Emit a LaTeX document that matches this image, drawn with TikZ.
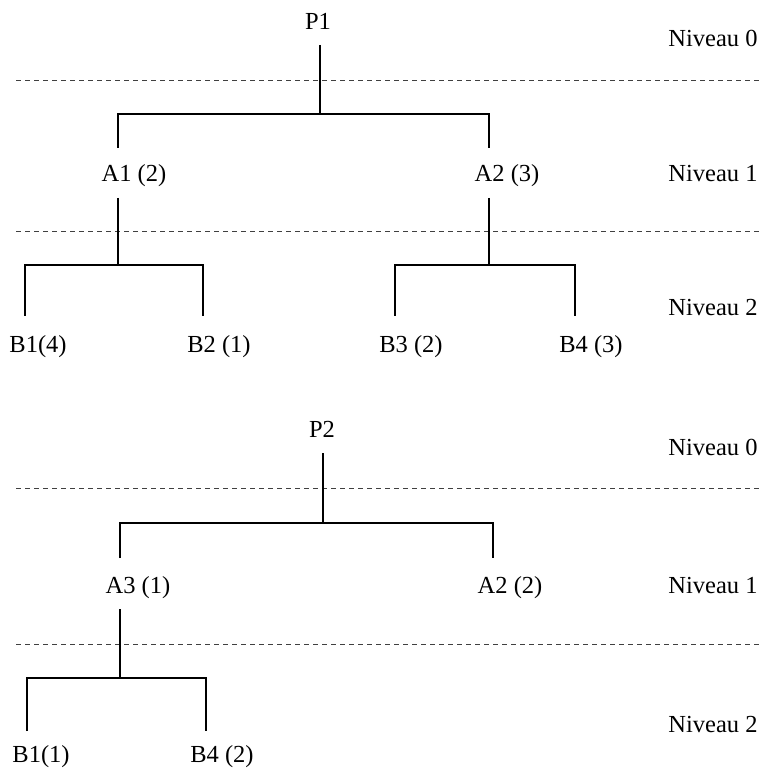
\documentclass[tikz,border=0pt]{standalone}
\usepackage{fontspec}
\setmainfont{Liberation Serif}
\usepackage{tikz}

\begin{document}
\begin{tikzpicture}[
  x=0.5pt,y=-0.5pt,
  font=\fontsize{12.25pt}{14pt}\selectfont,
  lbl/.style={inner sep=0pt,anchor=base},
  niveau/.style={inner sep=0pt,anchor=base west},
  branch/.style={draw=black,line width=0.6pt},
  sep/.style={draw=black!75,line width=0.45pt,dash pattern=on 2.5pt off 2pt},
]
\useasboundingbox (0,0) rectangle (762,769);

% level separators and level names
\foreach \y in {80,231,488,644}
  \draw[sep] (16,\y) -- (762,\y);
\foreach \y/\n [count=\i] in {47/0,182/1,316/2,455/0,593/1,732/2}
  \node[niveau] (niv\i) at (668,\y) {Niveau \n};

% first tree
\node[lbl] (P1) at (318,30) {P1};
\node[lbl] (A1) at (134,182) {A1 (2)};
\node[lbl] (A2) at (507,182) {A2 (3)};
\node[lbl] (B1) at (38,352) {B1(4)};
\node[lbl] (B2) at (219,352) {B2 (1)};
\node[lbl] (B3) at (411,352) {B3 (2)};
\node[lbl] (B4) at (591,352) {B4 (3)};

\coordinate (P1s) at (320,45);  \coordinate (P1f) at (320,114);
\coordinate (A1n) at (118,148); \coordinate (A1s) at (118,198); \coordinate (A1f) at (118,265);
\coordinate (A2n) at (489,148); \coordinate (A2s) at (489,198); \coordinate (A2f) at (489,265);
\coordinate (B1n) at (25,316);  \coordinate (B2n) at (203,316);
\coordinate (B3n) at (395,316); \coordinate (B4n) at (575,316);

\draw[branch] (P1s) -- (P1f);
\draw[branch] (A1n) |- (P1f) -| (A2n);
\draw[branch] (A1s) -- (A1f);
\draw[branch] (B1n) |- (A1f) -| (B2n);
\draw[branch] (A2s) -- (A2f);
\draw[branch] (B3n) |- (A2f) -| (B4n);

% second tree
\node[lbl] (P2) at (322,437) {P2};
\node[lbl] (A3) at (138,593) {A3 (1)};
\node[lbl] (A2b) at (510,593) {A2 (2)};
\node[lbl] (B1b) at (41,762) {B1(1)};
\node[lbl] (B4b) at (222,762) {B4 (2)};

\coordinate (P2s) at (323,453);  \coordinate (P2f) at (323,523);
\coordinate (A3n) at (120,558);  \coordinate (A3s) at (120,609); \coordinate (A3f) at (120,678);
\coordinate (A2bn) at (493,558);
\coordinate (B1bn) at (27,731);  \coordinate (B4bn) at (206,731);

\draw[branch] (P2s) -- (P2f);
\draw[branch] (A3n) |- (P2f) -| (A2bn);
\draw[branch] (A3s) -- (A3f);
\draw[branch] (B1bn) |- (A3f) -| (B4bn);
\end{tikzpicture}
\end{document}
